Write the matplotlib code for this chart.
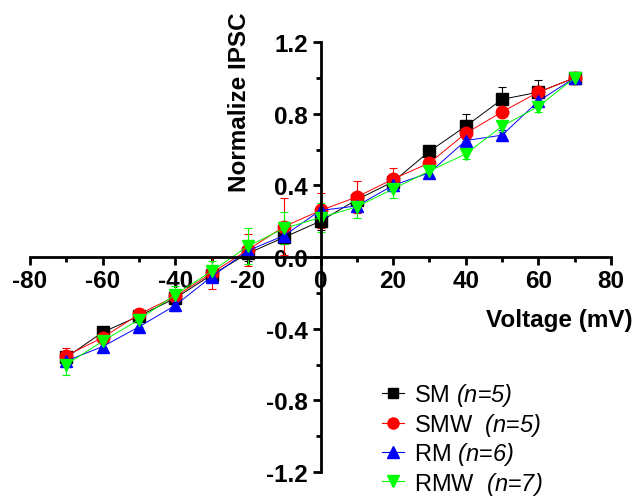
import numpy as np
import matplotlib
matplotlib.use("Agg")
import matplotlib.pyplot as plt
from matplotlib.lines import Line2D

plt.rcParams['font.family'] = ['Liberation Sans', 'DejaVu Sans']
plt.rcParams['axes.unicode_minus'] = False
plt.rcParams['mathtext.fontset'] = 'custom'
plt.rcParams['mathtext.rm'] = 'Liberation Sans:italic'
plt.rcParams['mathtext.it'] = 'Liberation Sans:italic'

# napięcie (mV)
voltage = np.array([-70, -60, -50, -40, -30, -20, -10, 0, 10, 20, 30, 40, 50, 60, 70])

# znormalizowane IPSC dla każdej grupy
sm = np.array([-0.56, -0.42, -0.33, -0.23, -0.10, 0.02, 0.11, 0.20, 0.32, 0.42, 0.59, 0.73, 0.88, 0.92, 1.00])
smw = np.array([-0.55, -0.45, -0.32, -0.22, -0.09, 0.04, 0.17, 0.26, 0.335, 0.435, 0.525, 0.69, 0.81, 0.92, 1.00])
rm = np.array([-0.58, -0.50, -0.39, -0.27, -0.11, 0.035, 0.12, 0.26, 0.285, 0.40, 0.47, 0.65, 0.68, 0.87, 1.00])
rmw = np.array([-0.60, -0.47, -0.35, -0.21, -0.08, 0.06, 0.16, 0.22, 0.28, 0.38, 0.48, 0.575, 0.73, 0.84, 1.00])

# błędy (SEM)
sm_err = np.array([0.03, 0.03, 0.03, 0.03, 0.03, 0.04, 0.04, 0.05, 0.04, 0.04, 0.03, 0.07, 0.07, 0.07, 0.0])
smw_err = np.array([0.04, 0.03, 0.03, 0.03, 0.09, 0.09, 0.16, 0.10, 0.09, 0.06, 0.04, 0.04, 0.03, 0.03, 0.0])
rm_err = np.array([0.03, 0.03, 0.03, 0.03, 0.03, 0.03, 0.03, 0.03, 0.03, 0.03, 0.03, 0.03, 0.03, 0.03, 0.0])
rmw_err = np.array([0.06, 0.04, 0.04, 0.05, 0.06, 0.10, 0.09, 0.08, 0.06, 0.05, 0.03, 0.03, 0.03, 0.03, 0.0])

names = ['SM ', 'SMW  ', 'RM ', 'RMW  ']
n_vals = [5, 5, 6, 7]

fig = plt.figure(figsize=(6.37, 5.02), dpi=100)
ax = fig.add_axes([30 / 637, 1 - 473 / 502, 581 / 637, 430 / 502])

series = [
    (sm, sm_err, 's', '#000000', 8),
    (smw, smw_err, 'o', '#ff0000', 9),
    (rm, rm_err, '^', '#0000ff', 9),
    (rmw, rmw_err, 'v', '#00ff00', 9),
]
handles = []
for (y, e, m, c, ms), nm, n in zip(series, names, n_vals):
    ax.errorbar(voltage, y, yerr=e, fmt='-' + m, color=c, ms=ms, lw=0.7,
                elinewidth=0.8, capsize=3, capthick=0.8)
    handles.append(Line2D([], [], color=c, marker=m, ms=ms - 1, lw=0.8,
                          label=nm + '$(n$=$%d)$' % n))

ax.set_xlim(-80, 80)
ax.set_ylim(-1.2, 1.2)

# osie przez zero
ax.spines['left'].set_position(('data', 0))
ax.spines['bottom'].set_position(('data', 0))
ax.spines['top'].set_visible(False)
ax.spines['right'].set_visible(False)
ax.spines['left'].set_linewidth(2)
ax.spines['bottom'].set_linewidth(2)

ax.set_xticks(np.arange(-80, 81, 20))
ax.set_xticks(np.arange(-70, 80, 20), minor=True)
ax.set_yticks(np.arange(-1.2, 1.21, 0.4))
ax.set_yticks(np.arange(-1.0, 1.1, 0.4), minor=True)
ax.set_yticklabels(['%.1f' % t for t in np.arange(-1.2, 1.21, 0.4)])
ax.tick_params(which='major', direction='out', length=6, width=2, labelsize=17.5, pad=3)
ax.tick_params(which='minor', direction='out', length=3.5, width=2)
for t in ax.get_xticklabels() + ax.get_yticklabels():
    t.set_fontweight('bold')

fig.text(559 / 637, 1 - 321 / 502, 'Voltage (mV)', ha='center', va='center',
         fontsize=17.5, fontweight='bold')
fig.text(239 / 637, 1 - 102 / 502, 'Normalize IPSC', ha='center', va='center',
         rotation=90, fontsize=17.5, fontweight='bold')

ax.legend(handles=handles, loc='upper left', bbox_to_anchor=(373 / 637, 1 - 373 / 502),
          bbox_transform=fig.transFigure, frameon=False, fontsize=17,
          handlelength=0.9, handletextpad=0.45, labelspacing=0.1,
          borderaxespad=0)

fig.savefig('out.png', dpi=100)
